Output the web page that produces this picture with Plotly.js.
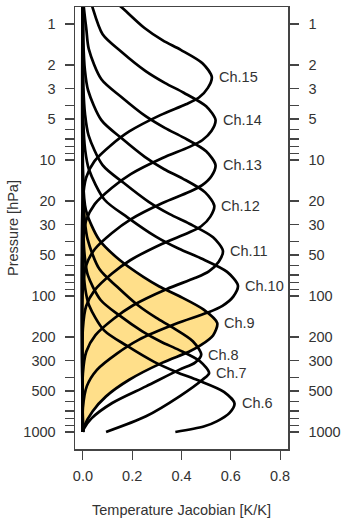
<!DOCTYPE html>
<html>
<head>
<meta charset="utf-8">
<script src="https://cdn.plot.ly/plotly-3.0.1.min.js"></script>
<style>html,body{margin:0;padding:0;background:#fff;}#chart{width:341px;height:522px;}</style>
</head>
<body>
<div id="chart"></div>
<script>
// Channel labels
const channels = ["Ch.6","Ch.7","Ch.8","Ch.9","Ch.10","Ch.11","Ch.12","Ch.13","Ch.14","Ch.15"];

// Pressure levels [hPa] and Jacobian values [K/K] read per channel
const ch6P  = [0.3, 58.9, 87.1, 117, 179, 232, 305, 363, 417, 507, 617, 724, 832, 912, 1000];
const ch6X  = [0, 0.002, 0.009, 0.025, 0.086, 0.178, 0.289, 0.381, 0.467, 0.572, 0.615, 0.595, 0.545, 0.49, 0.375];

const ch7P  = [0.3, 35.2, 52.1, 70.3, 107, 139, 182, 217, 249, 303, 369, 413, 547, 767, 1000];
const ch7X  = [0, 0.002, 0.008, 0.020, 0.072, 0.148, 0.241, 0.317, 0.389, 0.476, 0.512, 0.485, 0.392, 0.256, 0.094];

const ch8P  = [0.3, 17.1, 27.0, 38.2, 63.4, 85.5, 118, 145, 171, 215, 270, 309, 348, 462, 612, 794, 955, 1000];
const ch8X  = [0, 0.001, 0.007, 0.019, 0.067, 0.139, 0.226, 0.298, 0.365, 0.446, 0.48, 0.455, 0.392, 0.256, 0.119, 0.035, 0.003, 0];

const ch9P  = [0.3, 12.6, 23.2, 38.6, 54.2, 72.4, 85.1, 100, 126, 158, 195, 229, 257, 309, 413, 547, 706, 910, 1000];
const ch9X  = [0, 0, 0.012, 0.066, 0.148, 0.245, 0.31, 0.39, 0.49, 0.545, 0.528, 0.48, 0.43, 0.323, 0.188, 0.094, 0.039, 0.005, 0];

const ch10P = [0.3, 5.28, 8.38, 11.8, 19.6, 26.5, 36.6, 45.0, 52.8, 66.5, 83.8, 101, 118, 133, 160, 210, 265, 349, 460, 665, 1000];
const ch10X = [0, 0.002, 0.009, 0.025, 0.088, 0.182, 0.296, 0.390, 0.478, 0.585, 0.629, 0.610, 0.566, 0.503, 0.377, 0.226, 0.138, 0.057, 0.016, 0, 0];

const ch11P = [0.3, 2.94, 4.66, 6.58, 10.9, 14.7, 20.3, 25.0, 29.4, 37.0, 46.6, 56.0, 65.8, 73.8, 88.7, 117, 147, 194, 256, 370, 1000];
const ch11X = [0, 0.002, 0.009, 0.023, 0.080, 0.165, 0.267, 0.352, 0.432, 0.528, 0.568, 0.551, 0.511, 0.454, 0.341, 0.204, 0.125, 0.051, 0.014, 0, 0];

const ch12P = [0.3, 1.37, 2.17, 3.07, 5.09, 6.87, 9.48, 11.7, 13.7, 17.3, 21.7, 26.1, 30.7, 34.4, 41.4, 54.6, 68.7, 90.6, 119, 173, 1000];
const ch12X = [0, 0.002, 0.008, 0.021, 0.075, 0.155, 0.251, 0.330, 0.405, 0.496, 0.533, 0.517, 0.480, 0.426, 0.320, 0.192, 0.117, 0.048, 0.013, 0, 0];

const ch13P = [0.3, 0.685, 1.09, 1.53, 2.55, 3.44, 4.74, 5.83, 6.85, 8.63, 10.9, 13.1, 15.3, 17.2, 20.7, 27.3, 34.4, 45.3, 59.7, 86.3, 1000];
const ch13X = [0, 0.002, 0.014, 0.024, 0.075, 0.156, 0.253, 0.334, 0.409, 0.500, 0.538, 0.522, 0.484, 0.430, 0.323, 0.194, 0.118, 0.048, 0.013, 0, 0];

const ch14P = [0.32, 0.507, 0.716, 1.19, 1.60, 2.21, 2.72, 3.20, 4.03, 5.07, 6.10, 7.16, 8.04, 9.66, 12.7, 16.0, 21.1, 27.9, 40.3, 1000];
const ch14X = [0.002, 0.01, 0.035, 0.08, 0.156, 0.253, 0.334, 0.409, 0.500, 0.538, 0.522, 0.484, 0.430, 0.323, 0.194, 0.118, 0.048, 0.013, 0, 0];

const ch15P = [0.155, 0.245, 0.347, 0.575, 0.776, 1.07, 1.32, 1.55, 1.95, 2.45, 2.95, 3.47, 3.89, 4.68, 6.17, 7.76, 10.2, 13.5, 19.5, 1000];
const ch15X = [0.004, 0.012, 0.03, 0.085, 0.165, 0.25, 0.324, 0.397, 0.486, 0.523, 0.507, 0.471, 0.418, 0.314, 0.188, 0.115, 0.047, 0.013, 0, 0];

// Axis ticks
const xTicks = [0, 0.2, 0.4, 0.6, 0.8];
const xTickText = ["0.0", "0.2", "0.4", "0.6", "0.8"];
const pTicks = [1,2,3,4,5,6,7,8,9,10,20,30,40,50,60,70,80,90,100,200,300,400,500,600,700,800,900,1000];
const pTickText = ["1","2","3","","5","","","","","10","20","30","","50","","","","","100","200","300","","500","","","","","1000"];

const seriesP = [ch6P, ch7P, ch8P, ch9P, ch10P, ch11P, ch12P, ch13P, ch14P, ch15P];
const seriesX = [ch6X, ch7X, ch8X, ch9X, ch10X, ch11X, ch12X, ch13X, ch14X, ch15X];
const filledIndex = 3; // Ch.9 shaded

const txtColor = "#333333";
const axColor = "#444444";
const fontFam = "Liberation Sans, Arial, Helvetica, sans-serif";

const traces = [];
// shaded area for Ch.9
traces.push({
  x: seriesX[filledIndex], y: seriesP[filledIndex],
  type: "scatter", mode: "lines", fill: "toself",
  fillcolor: "#FFDF8A",
  line: {width: 0, shape: "spline", smoothing: 0.8, color: "rgba(0,0,0,0)"},
  hoverinfo: "skip"
});
seriesX.forEach((xs, i) => {
  traces.push({
    x: xs, y: seriesP[i], type: "scatter", mode: "lines",
    line: {color: "#000", width: 2.7, shape: "spline", smoothing: 0.8},
    name: channels[i]
  });
});
// invisible trace for right axis
traces.push({x: [0], y: [10], yaxis: "y2", type: "scatter", mode: "markers",
  marker: {opacity: 0}, hoverinfo: "skip"});

const annotations = seriesX.map((xs, i) => {
  let k = 0;
  xs.forEach((v, j) => { if (v > xs[k]) k = j; });
  return {
    x: xs[k], y: Math.log10(seriesP[i][k]), xref: "x", yref: "y",
    text: channels[i], showarrow: false, xanchor: "left", yanchor: "middle",
    xshift: 5, font: {family: fontFam, size: 14.5, color: txtColor}
  };
});

const yRange = [3.125, -0.125];
const yCommon = {
  type: "log", range: yRange, autorange: false,
  tickmode: "array", tickvals: pTicks, ticktext: pTickText,
  ticks: "outside", ticklen: 9, tickwidth: 1.2, tickcolor: axColor,
  showline: true, linecolor: axColor, linewidth: 1.5,
  showgrid: false, zeroline: false,
  tickfont: {family: fontFam, size: 14.5, color: txtColor}
};

const layout = {
  width: 341, height: 522,
  margin: {l: 75, r: 53, t: 7, b: 73},
  paper_bgcolor: "#fff", plot_bgcolor: "#fff",
  showlegend: false,
  font: {family: fontFam, size: 14.5, color: txtColor},
  xaxis: {
    range: [-0.032, 0.832], autorange: false,
    tickmode: "array", tickvals: xTicks, ticktext: xTickText,
    ticks: "outside", ticklen: 9, tickwidth: 1.2, tickcolor: axColor,
    showline: true, mirror: true, linecolor: axColor, linewidth: 1.5,
    showgrid: false, zeroline: false,
    tickfont: {family: fontFam, size: 14.5, color: txtColor},
    ticklabelstandoff: 4,
    title: {text: "Temperature Jacobian [K/K]", standoff: 22,
            font: {family: fontFam, size: 14.5, color: txtColor}}
  },
  yaxis: Object.assign({}, yCommon, {
    side: "left", ticklabelstandoff: 6,
    title: {text: "Pressure [hPa]", standoff: 1,
            font: {family: fontFam, size: 14.5, color: txtColor}}
  }),
  yaxis2: Object.assign({}, yCommon, {
    overlaying: "y", side: "right", ticklabelstandoff: 7
  }),
  annotations: annotations
};

Plotly.newPlot("chart", traces, layout, {displayModeBar: false, staticPlot: true});
</script>
</body>
</html>
